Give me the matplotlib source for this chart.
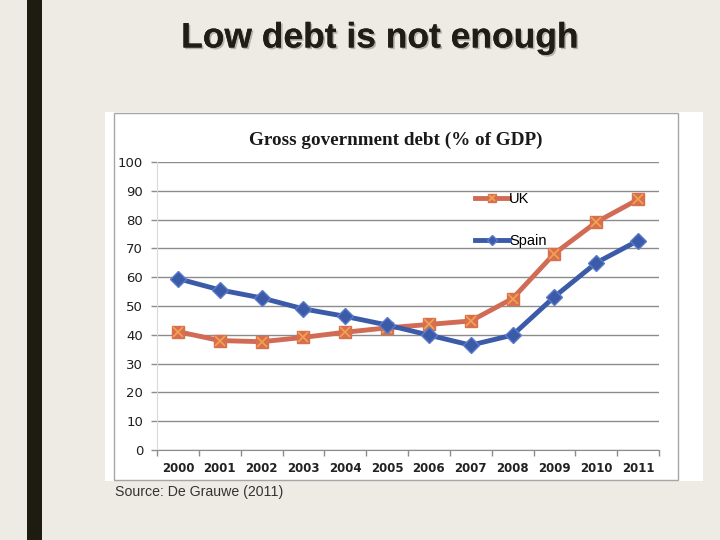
import matplotlib
matplotlib.use("Agg")
import matplotlib.pyplot as plt
from matplotlib.patches import Rectangle
from matplotlib.legend_handler import HandlerTuple
import matplotlib.patheffects as pe

years = ["2000", "2001", "2002", "2003", "2004", "2005",
         "2006", "2007", "2008", "2009", "2010", "2011"]
uk = [41.1, 38.0, 37.6, 39.1, 40.9, 42.4, 43.6, 44.8, 52.6, 68.2, 79.1, 87.0]
spain = [59.5, 55.6, 52.8, 49.0, 46.4, 43.4, 39.9, 36.4, 39.9, 53.2, 65.0, 72.7]
yticks = [0, 10, 20, 30, 40, 50, 60, 70, 80, 90, 100]

W, H = 720, 540
BG = "#EEEBE4"
UK_LINE = "#D26B55"
UK_FACE = "#D8704E"
UK_X = "#F2A253"
ES_LINE = "#3B5AA8"
ES_EDGE = "#5A7BCB"


def fx(x):
    return x / W


def fy(y):
    return 1 - y / H


fig = plt.figure(figsize=(7.2, 5.4), dpi=100, facecolor=BG)

# dark bar on the left of the slide
fig.patches.append(Rectangle((fx(27), 0), fx(15), 1, transform=fig.transFigure,
                             facecolor="#1C1C10", edgecolor="none", zorder=-2))

# white picture area + thin border (behind the axes)
fig.patches.append(Rectangle((fx(105), fy(481)), fx(598), 369 / H,
                             transform=fig.transFigure,
                             facecolor="white", edgecolor="none", zorder=-2))
fig.patches.append(Rectangle((fx(114), fy(480)), fx(564), 367 / H,
                             transform=fig.transFigure,
                             facecolor="none", edgecolor="#A6A6A6", lw=1, zorder=-1))

fig.text(fx(380), fy(38), "Low debt is not enough", ha="center", va="center",
         fontsize=25.5, fontweight="bold", family="Liberation Sans", color="#1E1E14",
         path_effects=[pe.withSimplePatchShadow(offset=(1.2, -1.2),
                                                shadow_rgbFace="#B5B2AA", alpha=1),
                       pe.Normal()])

fig.text(fx(396), fy(140), "Gross government debt (% of GDP)", ha="center",
         va="center", fontsize=13.8, fontweight="bold", family="Liberation Serif",
         color="#1A1A1A")

fig.text(fx(115), fy(492), "Source: De Grauwe (2011)", ha="left", va="center",
         fontsize=10.2, family="Liberation Sans", color="#333333")

ax = fig.add_axes([fx(157), fy(450), fx(502), 288 / H])
ax.set_facecolor("white")
xs = list(range(len(years)))

ln_uk, = ax.plot(xs, uk, color=UK_LINE, lw=3.5, marker="s", ms=9,
                 mfc=UK_FACE, mec=UK_FACE, zorder=3)
mk_uk, = ax.plot(xs, uk, ls="none", marker="x", ms=7, mew=1.2,
                 color=UK_X, zorder=4)
ln_es, = ax.plot(xs, spain, color=ES_LINE, lw=3.5, marker="D", ms=8,
                 mfc=ES_LINE, mec=ES_EDGE, mew=1, zorder=5)

ax.set_xlim(-0.5, len(years) - 0.5)
ax.set_ylim(0, 100)
ax.set_yticks(yticks)
ax.set_yticklabels([str(v) for v in yticks], fontsize=9.5, family="DejaVu Sans",
                   color="#1E1E1E")
ax.set_xticks(xs)
ax.set_xticklabels(years, fontsize=8.5, fontweight="bold", family="DejaVu Sans",
                   color="#222222")
ax.set_xticks([x - 0.5 for x in range(len(years) + 1)], minor=True)
ax.tick_params(axis="x", which="major", length=0, pad=9)
ax.tick_params(axis="x", which="minor", length=4, color="#8C8C8C", width=1)
ax.tick_params(axis="y", length=4, color="#8C8C8C", width=1, pad=6)
ax.grid(axis="y", color="#8C8C8C", lw=1)
ax.set_axisbelow(True)
for s in ["top", "right"]:
    ax.spines[s].set_visible(False)
ax.spines["left"].set_color("#DADADA")
ax.spines["bottom"].set_color("#8C8C8C")

leg = fig.legend([(ln_uk, mk_uk), ln_es], ["UK", "Spain"],
                 handler_map={tuple: HandlerTuple(ndivide=1)},
                 loc="upper left", bbox_to_anchor=(fx(475), fy(192)),
                 frameon=False, borderpad=0, borderaxespad=0,
                 handlelength=2.3, handletextpad=0.05, labelspacing=1.9,
                 markerscale=0.65, prop={"family": "Liberation Sans", "size": 10.5})

fig.savefig("out.png", dpi=100, facecolor=BG)
